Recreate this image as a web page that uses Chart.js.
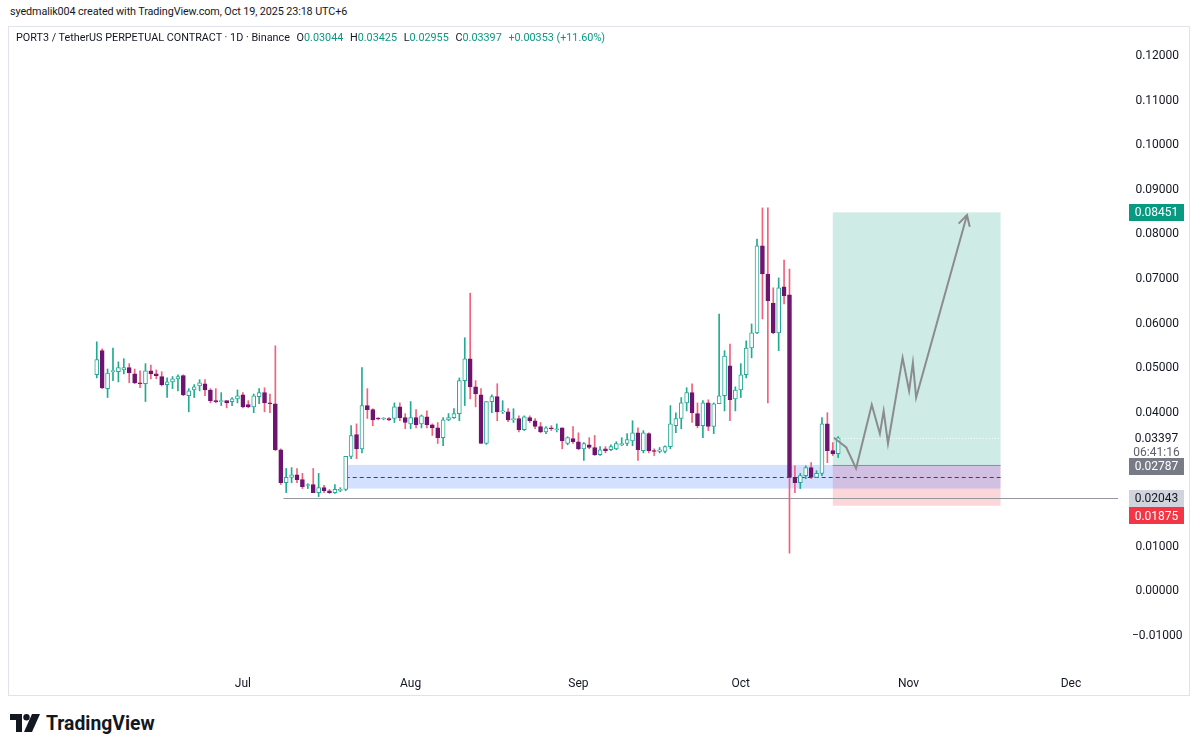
<!DOCTYPE html>
<html>
<head>
<meta charset="utf-8">
<title>PORT3 / TetherUS 1D</title>
<script src="https://cdn.jsdelivr.net/npm/chart.js@4.4.1/dist/chart.umd.min.js"></script>
<style>
  body { margin: 0; background: #fff; width: 1200px; height: 751px; overflow: hidden; font-family: Roboto, "Noto Sans", sans-serif; color: #131722; }
  #credit { position: absolute; left: 10px; top: 5px; font-size: 10.8px; letter-spacing: -0.1px; }
  #chartBox { position: absolute; left: 8px; top: 26px; width: 1182px; height: 670px; }
  #frame { position: absolute; left: 8px; top: 26px; width: 1182px; height: 670px; box-sizing: border-box; border: 1px solid #e0e3eb; pointer-events: none; }
  #legend { position: absolute; left: 16px; top: 31px; font-size: 10.8px; white-space: nowrap; }
  #legend .v { color: #089981; }
  #legend .k { margin-left: 4px; }
  #logo { position: absolute; left: 10px; top: 711px; display: flex; align-items: center; }
  #logo span { font-size: 21px; font-weight: bold; margin-left: 6px; display: inline-block; transform: scaleX(0.92); transform-origin: left center; }
</style>
</head>
<body>
<div id="credit">syedmalik004 created with TradingView.com, Oct 19, 2025 23:18 UTC+6</div>
<div id="chartBox"><canvas id="chart" width="1182" height="670"></canvas></div>
<div id="frame"></div>
<div id="legend">PORT3 / TetherUS PERPETUAL CONTRACT · 1D · Binance <span class="k">O</span><span class="v">0.03044</span> <span class="k">H</span><span class="v">0.03425</span> <span class="k">L</span><span class="v">0.02955</span> <span class="k">C</span><span class="v">0.03397</span> <span class="v k">+0.00353 (+11.60%)</span></div>
<div id="logo">
  <svg width="30" height="18" viewBox="0 0 30 18"><path d="M0 0H12V18H6V6H0Z" fill="#131722"/><circle cx="16.5" cy="3.2" r="3.2" fill="#131722"/><path d="M22 0H30L22 18H14Z" fill="#131722"/></svg>
  <span>TradingView</span>
</div>
<script>
// daily candles, day 0 = Jun 1 2025, first candle Jun 4
const firstDay = 3;
const opens = [0.0481,0.0535,0.0450,0.0488,0.0488,0.0492,0.0497,0.0483,0.0463,0.0461,
  0.0490,0.0483,0.0477,0.0459,0.0465,0.0472,0.0479,0.0434,0.0447,0.0456,
  0.0461,0.0447,0.0423,0.0421,0.0423,0.0421,0.0427,0.0436,0.0414,0.0409,
  0.0432,0.0441,0.0418,0.0416,0.0313,0.0239,0.0251,0.0257,0.0246,0.0235,
  0.0235,0.0217,0.0228,0.0221,0.0217,0.0222,0.0224,0.0298,0.0347,0.0315,
  0.0412,0.0403,0.0383,0.0382,0.0383,0.0383,0.0409,0.0385,0.0371,0.0385,
  0.0371,0.0387,0.0369,0.0362,0.0340,0.0380,0.0385,0.0394,0.0468,0.0517,
  0.0454,0.0436,0.0327,0.0421,0.0432,0.0398,0.0398,0.0380,0.0383,0.0358,
  0.0385,0.0378,0.0365,0.0353,0.0362,0.0360,0.0362,0.0327,0.0338,0.0331,
  0.0315,0.0324,0.0318,0.0302,0.0315,0.0313,0.0315,0.0324,0.0327,0.0333,
  0.0351,0.0311,0.0349,0.0311,0.0309,0.0309,0.0320,0.0367,0.0383,0.0418,
  0.0441,0.0394,0.0367,0.0418,0.0365,0.0416,0.0434,0.0501,0.0427,0.0447,
  0.0481,0.0541,0.0575,0.0770,0.0707,0.0642,0.0575,0.0678,0.0660,0.0251,
  0.0239,0.0255,0.0273,0.0251,0.0260,0.0371,0.0311,0.03044];
const highs = [0.0555,0.0539,0.0494,0.0541,0.0510,0.0517,0.0506,0.0494,0.0490,0.0506,
  0.0503,0.0492,0.0488,0.0474,0.0477,0.0481,0.0481,0.0450,0.0459,0.0470,
  0.0470,0.0450,0.0450,0.0441,0.0423,0.0430,0.0447,0.0441,0.0423,0.0438,
  0.0450,0.0452,0.0438,0.0546,0.0315,0.0271,0.0273,0.0271,0.0260,0.0237,
  0.0271,0.0260,0.0233,0.0224,0.0235,0.0228,0.0298,0.0367,0.0371,0.0497,
  0.0450,0.0405,0.0385,0.0385,0.0385,0.0418,0.0418,0.0394,0.0421,0.0403,
  0.0391,0.0400,0.0371,0.0374,0.0385,0.0394,0.0405,0.0474,0.0564,0.0664,
  0.0468,0.0450,0.0421,0.0436,0.0461,0.0423,0.0405,0.0405,0.0389,0.0389,
  0.0389,0.0383,0.0374,0.0365,0.0367,0.0371,0.0362,0.0342,0.0365,0.0351,
  0.0329,0.0340,0.0345,0.0320,0.0320,0.0324,0.0331,0.0340,0.0349,0.0378,
  0.0362,0.0356,0.0351,0.0315,0.0318,0.0322,0.0412,0.0396,0.0430,0.0452,
  0.0461,0.0418,0.0423,0.0425,0.0418,0.0617,0.0535,0.0550,0.0454,0.0506,
  0.0557,0.0595,0.0785,0.0855,0.0855,0.0676,0.0698,0.0738,0.0718,0.0277,
  0.0260,0.0277,0.0284,0.0266,0.0385,0.0396,0.0329,0.03425];
const lows = [0.0474,0.0450,0.0430,0.0468,0.0465,0.0483,0.0463,0.0461,0.0452,0.0421,
  0.0472,0.0472,0.0456,0.0430,0.0450,0.0445,0.0434,0.0398,0.0430,0.0445,
  0.0434,0.0418,0.0418,0.0412,0.0407,0.0412,0.0418,0.0407,0.0407,0.0396,
  0.0416,0.0398,0.0396,0.0311,0.0235,0.0217,0.0239,0.0239,0.0226,0.0226,
  0.0217,0.0208,0.0217,0.0215,0.0215,0.0219,0.0221,0.0293,0.0293,0.0306,
  0.0383,0.0367,0.0380,0.0380,0.0378,0.0374,0.0378,0.0360,0.0360,0.0362,
  0.0362,0.0362,0.0345,0.0327,0.0322,0.0378,0.0383,0.0378,0.0412,0.0427,
  0.0409,0.0327,0.0325,0.0396,0.0378,0.0394,0.0376,0.0374,0.0353,0.0356,
  0.0374,0.0360,0.0351,0.0349,0.0356,0.0353,0.0315,0.0324,0.0327,0.0313,
  0.0289,0.0315,0.0300,0.0300,0.0306,0.0311,0.0313,0.0322,0.0322,0.0322,
  0.0289,0.0306,0.0306,0.0300,0.0306,0.0306,0.0315,0.0351,0.0360,0.0400,
  0.0374,0.0362,0.0340,0.0356,0.0349,0.0416,0.0400,0.0378,0.0400,0.0430,
  0.0474,0.0519,0.0573,0.0606,0.0418,0.0573,0.0535,0.0640,0.0081,0.0217,
  0.0226,0.0248,0.0248,0.0251,0.0255,0.0284,0.0300,0.02955];
const closes = [0.0515,0.0452,0.0485,0.0490,0.0497,0.0497,0.0485,0.0463,0.0461,0.0490,
  0.0483,0.0479,0.0459,0.0465,0.0472,0.0477,0.0436,0.0445,0.0454,0.0463,
  0.0447,0.0423,0.0421,0.0423,0.0418,0.0427,0.0434,0.0409,0.0409,0.0434,
  0.0441,0.0418,0.0416,0.0313,0.0239,0.0251,0.0257,0.0246,0.0230,0.0235,
  0.0217,0.0228,0.0221,0.0217,0.0224,0.0224,0.0298,0.0345,0.0315,0.0412,
  0.0403,0.0380,0.0382,0.0383,0.0380,0.0409,0.0385,0.0374,0.0385,0.0369,
  0.0389,0.0369,0.0362,0.0340,0.0380,0.0385,0.0394,0.0468,0.0517,0.0454,
  0.0438,0.0327,0.0421,0.0432,0.0398,0.0400,0.0380,0.0383,0.0358,0.0387,
  0.0378,0.0365,0.0353,0.0362,0.0360,0.0360,0.0333,0.0340,0.0331,0.0315,
  0.0327,0.0318,0.0302,0.0313,0.0311,0.0320,0.0327,0.0327,0.0336,0.0351,
  0.0313,0.0351,0.0311,0.0309,0.0313,0.0320,0.0371,0.0383,0.0418,0.0441,
  0.0396,0.0367,0.0418,0.0365,0.0416,0.0434,0.0523,0.0425,0.0447,0.0481,
  0.0541,0.0575,0.0770,0.0707,0.0647,0.0575,0.0676,0.0658,0.0251,0.0239,
  0.0255,0.0273,0.0251,0.0260,0.0371,0.0311,0.0304,0.03397];

// month ticks on the time axis (day numbers from Jun 1)
const monthDays = [30, 61, 92, 122, 153, 183];
const monthLabels = ['Jul', 'Aug', 'Sep', 'Oct', 'Nov', 'Dec'];
const priceTicks = [-0.01, 0, 0.01, 0.02, 0.03, 0.04, 0.05, 0.06, 0.07, 0.08, 0.09, 0.10, 0.11, 0.12];
const hiddenTicks = [0.02, 0.03];

// drawings
const zone = { from: 49, to: 170, top: 0.0279, bottom: 0.0226, mid: 0.0253 };
const position = { from: 139, to: 170, target: 0.08451, entry: 0.02787, stop: 0.01875 };
const supportLine = { from: 37.5, price: 0.02043 };
const pathDays = [139.2, 141.5, 143.3, 146.2, 147.7, 148.4, 149.2, 151.9, 153.1, 153.8, 154.4, 163.8];
const pathPrices = [0.0340, 0.0318, 0.0271, 0.0414, 0.0349, 0.0400, 0.0327, 0.0519, 0.0445, 0.0508, 0.0430, 0.0839];

const upColor = '#22ab94';
const downBody = '#6e1470';
const downWick = '#f2607c';
const fontFamily = 'Roboto, "Noto Sans", sans-serif';
const isUp = i => closes[i] >= opens[i];

const bodyData = opens.map((o, i) => ({ x: firstDay + i, y: [o, closes[i]] }));
const wickData = lows.map((l, i) => ({ x: firstDay + i, y: [l, highs[i]] }));
const pathData = pathDays.map((d, i) => ({ x: d, y: pathPrices[i] }));

const drawingsPlugin = {
    id: 'drawings',
    beforeDatasetsDraw(chart) {
        const { ctx, chartArea, scales: { x, y } } = chart;
        ctx.save();
        ctx.beginPath();
        ctx.rect(chartArea.left, chartArea.top, chartArea.width, chartArea.height);
        ctx.clip();

        // long position: profit and stop areas
        const px1 = x.getPixelForValue(position.from), px2 = x.getPixelForValue(position.to);
        ctx.fillStyle = 'rgba(8,153,129,0.2)';
        ctx.fillRect(px1, y.getPixelForValue(position.target), px2 - px1, y.getPixelForValue(position.entry) - y.getPixelForValue(position.target));
        ctx.fillStyle = 'rgba(242,54,69,0.2)';
        ctx.fillRect(px1, y.getPixelForValue(position.entry), px2 - px1, y.getPixelForValue(position.stop) - y.getPixelForValue(position.entry));

        // blue demand zone
        const zx1 = x.getPixelForValue(zone.from), zx2 = x.getPixelForValue(zone.to);
        ctx.fillStyle = 'rgba(41,98,255,0.2)';
        ctx.fillRect(zx1, y.getPixelForValue(zone.top), zx2 - zx1, y.getPixelForValue(zone.bottom) - y.getPixelForValue(zone.top));
        ctx.strokeStyle = '#2a3f9e';
        ctx.lineWidth = 1;
        ctx.setLineDash([4, 3]);
        const my = Math.round(y.getPixelForValue(zone.mid)) + 0.5;
        ctx.beginPath(); ctx.moveTo(zx1, my); ctx.lineTo(zx2, my); ctx.stroke();

        // current price dotted line inside the position box
        ctx.strokeStyle = '#ffffff';
        ctx.setLineDash([1, 2]);
        const cy = Math.round(y.getPixelForValue(closes[closes.length - 1])) + 0.5;
        ctx.beginPath(); ctx.moveTo(px1, cy); ctx.lineTo(px2, cy); ctx.stroke();
        ctx.setLineDash([]);

        // entry line
        ctx.strokeStyle = '#8c8f99';
        const ey = Math.round(y.getPixelForValue(position.entry)) + 0.5;
        ctx.beginPath(); ctx.moveTo(px1, ey); ctx.lineTo(px2, ey); ctx.stroke();

        // horizontal support line
        ctx.strokeStyle = '#9598a1';
        const sy = Math.round(y.getPixelForValue(supportLine.price)) + 0.5;
        ctx.beginPath(); ctx.moveTo(x.getPixelForValue(supportLine.from), sy); ctx.lineTo(chartArea.right, sy); ctx.stroke();
        ctx.restore();
    },
    afterDatasetsDraw(chart) {
        // arrow head at the end of the projected path
        const { ctx, scales: { x, y } } = chart;
        const n = pathDays.length;
        const ex = x.getPixelForValue(pathDays[n - 1]), ey = y.getPixelForValue(pathPrices[n - 1]);
        const sx = x.getPixelForValue(pathDays[n - 2]), sy = y.getPixelForValue(pathPrices[n - 2]);
        const a = Math.atan2(ey - sy, ex - sx);
        ctx.save();
        ctx.strokeStyle = '#8c8c8c';
        ctx.lineWidth = 2;
        ctx.beginPath();
        ctx.moveTo(ex - 12 * Math.cos(a - 0.5), ey - 12 * Math.sin(a - 0.5));
        ctx.lineTo(ex, ey);
        ctx.lineTo(ex - 12 * Math.cos(a + 0.5), ey - 12 * Math.sin(a + 0.5));
        ctx.stroke();
        ctx.restore();
    },
    afterDraw(chart) {
        // price labels on the right scale
        const { ctx, chartArea, scales: { y } } = chart;
        const bx = chartArea.right + 11, bw = 55, bh = 17;
        const cx = bx + bw / 2;
        ctx.save();
        ctx.font = '12px ' + fontFamily;
        ctx.textAlign = 'center';
        ctx.textBaseline = 'middle';
        const box = (price, shift, bg, fg) => {
            const py = y.getPixelForValue(price) + shift;
            ctx.fillStyle = bg;
            ctx.fillRect(bx, Math.round(py - bh / 2), bw, bh);
            ctx.fillStyle = fg;
            ctx.fillText(price.toFixed(5), cx, py + 1);
        };
        box(position.target, 0, '#089981', '#ffffff');
        const last = closes[closes.length - 1];
        const ly = y.getPixelForValue(last) + 1;
        ctx.fillStyle = '#131722';
        ctx.fillText(last.toFixed(5), cx, ly);
        ctx.fillStyle = '#5d606b';
        ctx.fillText('06:41:16', cx, ly + 14);
        box(position.entry, 1, '#787b86', '#ffffff');
        box(supportLine.price, 0, '#d1d4dc', '#131722');
        box(position.stop, 10, '#f23645', '#ffffff');
        ctx.restore();
    }
};

const ctx = document.getElementById('chart');
new Chart(ctx, {
    data: {
        datasets: [
            {
                type: 'line',
                data: pathData,
                borderColor: '#8c8c8c',
                borderWidth: 2,
                pointRadius: 0,
                tension: 0,
                order: -1
            },
            {
                type: 'bar',
                data: bodyData,
                backgroundColor: c => isUp(c.dataIndex) ? '#ffffff' : downBody,
                borderColor: c => isUp(c.dataIndex) ? upColor : downBody,
                borderWidth: 1,
                borderSkipped: false,
                barThickness: 4,
                minBarLength: 1,
                grouped: false,
                order: 0
            },
            {
                type: 'bar',
                data: wickData,
                backgroundColor: c => isUp(c.dataIndex) ? upColor : downWick,
                barThickness: 1,
                grouped: false,
                order: 1
            }
        ]
    },
    options: {
        responsive: false,
        animation: false,
        events: [],
        layout: { padding: 0 },
        plugins: { legend: { display: false }, tooltip: { enabled: false } },
        scales: {
            x: {
                type: 'linear',
                min: -13.4,
                max: 191.7,
                offset: false,
                grid: { display: false, drawTicks: false, offset: false },
                border: { display: false },
                afterBuildTicks: s => { s.ticks = monthDays.map(v => ({ value: v })); },
                afterFit: s => { s.height = 26; s.paddingLeft = 0; s.paddingRight = 0; },
                ticks: {
                    color: '#131722',
                    font: { family: fontFamily, size: 12 },
                    padding: 7,
                    maxRotation: 0,
                    autoSkip: false,
                    callback: (v, i) => monthLabels[i]
                }
            },
            y: {
                position: 'right',
                min: -0.01807,
                max: 0.12628,
                grid: { display: false, drawTicks: false },
                border: { display: false },
                afterBuildTicks: s => { s.ticks = priceTicks.map(v => ({ value: v })); },
                afterFit: s => { s.width = 72; s.paddingTop = 0; s.paddingBottom = 0; },
                ticks: {
                    color: '#131722',
                    font: { family: fontFamily, size: 12 },
                    crossAlign: 'center',
                    padding: 14,
                    labelOffset: 2,
                    callback: v => hiddenTicks.some(h => Math.abs(h - v) < 1e-9) ? '' : v.toFixed(5).replace('-', '\u2212')
                }
            }
        }
    },
    plugins: [drawingsPlugin]
});
</script>
</body>
</html>
